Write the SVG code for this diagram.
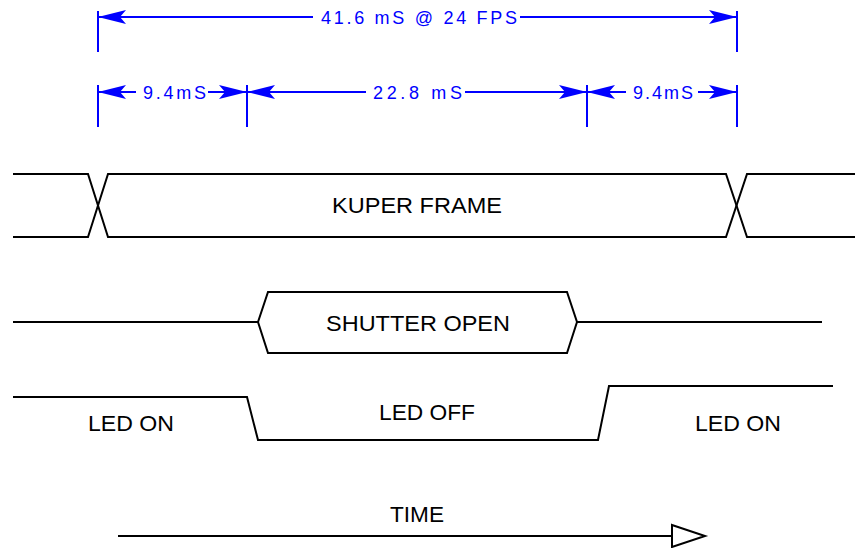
<svg xmlns="http://www.w3.org/2000/svg" width="855" height="548" viewBox="0 0 855 548">
<style>
.dim{stroke:#0000ff;stroke-width:2;fill:none}
.dimtxt{font-family:"Liberation Sans",Arial,sans-serif;font-size:18px;fill:#0000ff;text-anchor:start}
.sig{stroke:#000;stroke-width:2;fill:none;stroke-linejoin:miter}
.lbl{font-family:"Liberation Sans",Arial,sans-serif;font-size:22px;fill:#000;text-anchor:start}
</style>
<defs>
<marker id="ah" markerUnits="userSpaceOnUse" markerWidth="28" markerHeight="14" viewBox="0 -7 28 14" refX="28" refY="0" orient="auto-start-reverse">
<path d="M0,-7 L28,0 L0,7 L6,0 Z" fill="#0000ff"/>
</marker>
</defs>
<rect width="855" height="548" fill="#fff"/>
<g id="connectors">
<g id="dim-extensions" class="dim">
<line x1="98" y1="11" x2="98" y2="52"/>
<line x1="737" y1="11" x2="737" y2="52"/>
<line x1="98" y1="85" x2="98" y2="127"/>
<line x1="247" y1="85" x2="247" y2="127"/>
<line x1="587" y1="85" x2="587" y2="127"/>
<line x1="737" y1="85" x2="737" y2="127"/>
</g>
<g id="dim-lines" class="dim">
<line x1="98" y1="17" x2="313" y2="17" marker-start="url(#ah)"/>
<line x1="520" y1="17" x2="737" y2="17" marker-end="url(#ah)"/>
<line x1="98" y1="92" x2="136" y2="92" marker-start="url(#ah)"/>
<line x1="208" y1="92" x2="247" y2="92" marker-end="url(#ah)"/>
<line x1="247" y1="92" x2="366" y2="92" marker-start="url(#ah)"/>
<line x1="465" y1="92" x2="587" y2="92" marker-end="url(#ah)"/>
<line x1="587" y1="92" x2="626" y2="92" marker-start="url(#ah)"/>
<line x1="698" y1="92" x2="737" y2="92" marker-end="url(#ah)"/>
</g>
<g id="time-arrow">
<line class="sig" x1="118" y1="536" x2="672" y2="536"/>
<polygon class="sig" points="672,525 705,536 672,547"/>
</g>
</g>
<g id="dim-total">
<text class="dimtxt" x="321" y="24" textLength="196" lengthAdjust="spacing">41.6 mS @ 24 FPS</text>
</g>
<g id="dim-led1">
<text class="dimtxt" x="143" y="99" textLength="63" lengthAdjust="spacing">9.4mS</text>
</g>
<g id="dim-shutter">
<text class="dimtxt" x="373" y="99" textLength="89" lengthAdjust="spacing">22.8 mS</text>
</g>
<g id="dim-led2">
<text class="dimtxt" x="633" y="99" textLength="60" lengthAdjust="spacing">9.4mS</text>
</g>
<g id="kuper-frame">
<polyline class="sig" points="13,174 88,174 108,237 726,237 747,174 855,174"/>
<polyline class="sig" points="13,237 88,237 108,174 726,174 747,237 855,237"/>
<text class="lbl" x="332" y="213" textLength="170" lengthAdjust="spacingAndGlyphs">KUPER FRAME</text>
</g>
<g id="shutter-open">
<polyline class="sig" points="13,322 258,322"/>
<polygon class="sig" points="258,322 268,292 567,292 577,322 567,353 268,353"/>
<polyline class="sig" points="577,322 822,322"/>
<text class="lbl" x="326" y="331" textLength="184" lengthAdjust="spacingAndGlyphs">SHUTTER OPEN</text>
</g>
<g id="led">
<polyline class="sig" points="13,397 247,397 258,440 598,440 609,386 833,386"/>
<text class="lbl" x="88" y="431" textLength="86" lengthAdjust="spacingAndGlyphs">LED ON</text>
<text class="lbl" x="379" y="420" textLength="96" lengthAdjust="spacingAndGlyphs">LED OFF</text>
<text class="lbl" x="695" y="431" textLength="86" lengthAdjust="spacingAndGlyphs">LED ON</text>
</g>
<g id="time-label">
<text class="lbl" x="390" y="522" textLength="54" lengthAdjust="spacingAndGlyphs">TIME</text>
</g>
</svg>
